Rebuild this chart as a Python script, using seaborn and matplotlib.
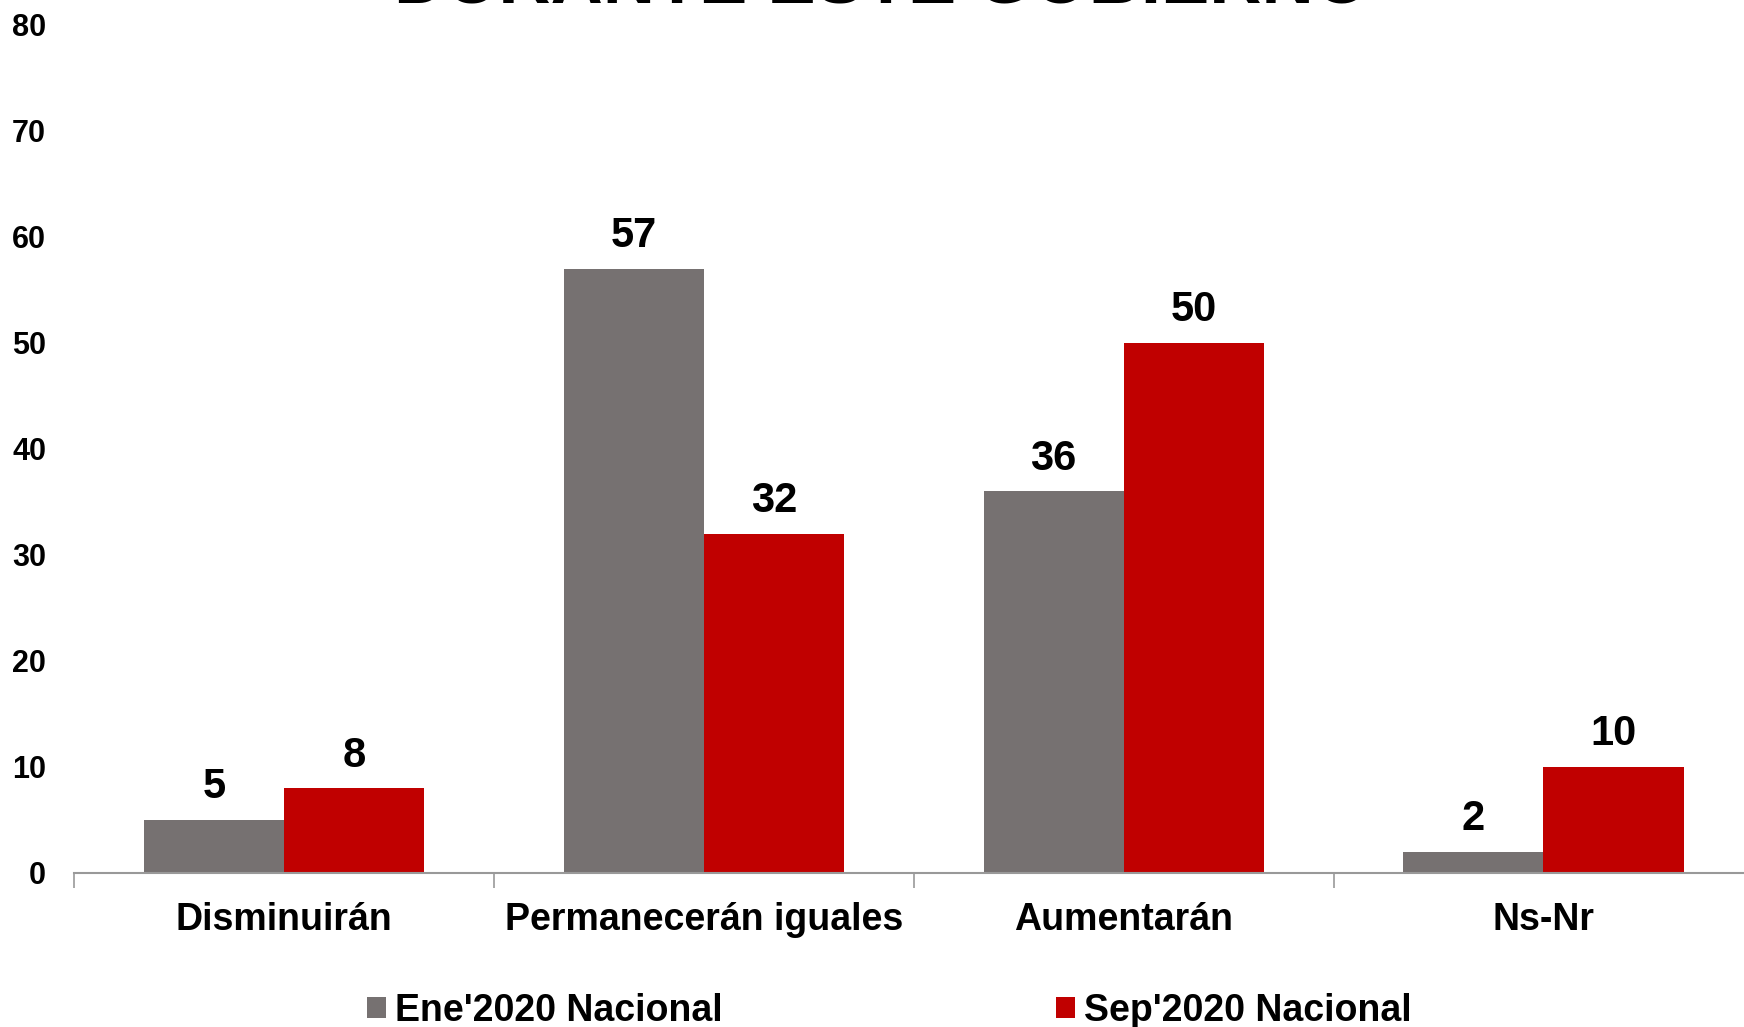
import pandas as pd
import matplotlib
matplotlib.use("Agg")
import matplotlib.pyplot as plt
import seaborn as sns

# datos
categorias = ["Disminuirán", "Permanecerán iguales", "Aumentarán", "Ns-Nr"]
ene_2020 = [5, 57, 36, 2]
sep_2020 = [8, 32, 50, 10]
series = ["Ene'2020 Nacional", "Sep'2020 Nacional"]
yticks = [0, 10, 20, 30, 40, 50, 60, 70, 80]
titulo = "DURANTE ESTE GOBIERNO"

df = pd.DataFrame({
    "categoria": categorias * 2,
    "serie": [series[0]] * 4 + [series[1]] * 4,
    "valor": ene_2020 + sep_2020,
})

sns.set_style("white")
plt.rcParams["font.family"] = ["Liberation Sans", "DejaVu Sans"]
plt.rcParams["font.weight"] = "bold"
plt.rcParams["text.color"] = "black"
plt.rcParams["xtick.color"] = "black"
plt.rcParams["ytick.color"] = "black"

fig = plt.figure(figsize=(17.44, 10.27), dpi=100)
ax = fig.add_axes([0.0424, 0.15, 0.963, 0.826])

colores = {series[0]: "#767171", series[1]: "#C00000"}
sns.barplot(data=df, x="categoria", y="valor", hue="serie", palette=colores,
            width=0.667, saturation=1, linewidth=0, ax=ax, legend=True)

for cont in ax.containers:
    ax.bar_label(cont, fontsize=30, fontweight="bold", padding=9, color="black")

ax.set_xlim(-0.5, 3.5)
ax.set_ylim(0, 80)
ax.set_yticks(yticks)
ax.tick_params(axis="y", length=0, labelsize=22, pad=20, labelcolor="black")
ax.tick_params(axis="x", which="major", length=0, labelsize=27, pad=21,
               labelcolor="black")
ax.set_xticks([-0.5, 0.5, 1.5, 2.5], minor=True)
ax.tick_params(axis="x", which="minor", bottom=True, length=11,
               color="#999999", width=1.2, direction="out")
for lab in ax.get_yticklabels() + ax.get_xticklabels():
    lab.set_fontweight("bold")
ax.set_xlabel("")
ax.set_ylabel("")
for s in ["top", "right", "left"]:
    ax.spines[s].set_visible(False)
ax.spines["bottom"].set_color("#999999")
ax.spines["bottom"].set_linewidth(1.5)

handles, labels = ax.get_legend_handles_labels()
ax.get_legend().remove()
fig.legend(handles, labels, loc="center", bbox_to_anchor=(0.510, 0.016), ncol=2,
           frameon=False, prop={"size": 27, "weight": "bold"},
           handlelength=0.5, handleheight=0.5, handletextpad=0.25,
           columnspacing=8.9)

fig.text(0.506, 0.998, titulo, ha="center", va="baseline", fontsize=52,
         fontweight="bold", color="black")

fig.savefig("out.png", dpi=100)
